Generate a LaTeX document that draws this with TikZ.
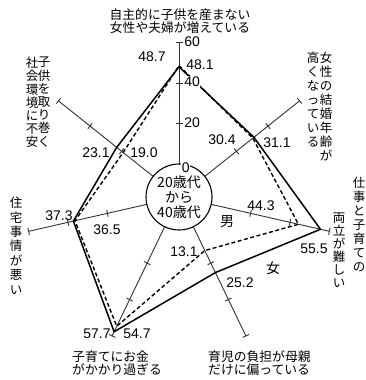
\documentclass[tikz,border=0pt]{standalone}
\usepackage{fontspec}
\setmainfont{Liberation Sans}
\newfontfamily\jp{Noto Sans CJK JP}
\begin{document}
\begin{tikzpicture}[x=1pt,y=1pt,
  axisline/.style={line width=0.9pt, black!80},
  tickmark/.style={line width=0.9pt, black!80},
  femline/.style={line width=1.5pt, line join=round},
  maleline/.style={line width=1.4pt, dash pattern=on 4pt off 2.5pt},
  numlbl/.style={font=\fontsize{14}{14}\selectfont, inner sep=0.5pt},
  scalelbl/.style={font=\fontsize{14}{14}\selectfont, inner sep=0.6pt, fill=white, anchor=west},
  sexlbl/.style={font=\jp\fontsize{14}{14}\selectfont, inner sep=0pt},
  jph/.style={font=\jp\fontsize{12.8}{13}\selectfont, align=left, inner sep=0pt},
  jpv/.style={font=\jp\fontsize{12.5}{14}\selectfont, align=center, inner sep=0pt, anchor=north},
]
\useasboundingbox (0,0) rectangle (366,380);
\fill[white] (0,0) rectangle (366,380);
\coordinate (C) at (179,183);
\def\rz{33}\def\sc{2.02}
% axes with ticks
\foreach \i/\a in {1/90,2/38.5714,3/-12.8571,4/-64.2857,5/-115.7143,6/-167.1429,7/141.4286}{
  \coordinate (s\i) at ([shift={({\a}:{\rz})}]C);
  \coordinate (e\i) at ([shift={({\a}:{\rz+60*\sc})}]C);
  \draw[axisline] (s\i) -- (e\i);
  \foreach \v in {20,40,60}{
    \draw[tickmark] ([shift={({\a}:{\rz+\v*\sc})}]C) ++({\a+90}:3.5) -- ++({\a-90}:7);
  }
}
% data points
\foreach \i/\a/\f/\m in {1/90/48.1/48.7, 2/38.5714/31.1/30.4, 3/-12.8571/55.5/44.3, 4/-64.2857/25.2/13.1, 5/-115.7143/57.7/54.7, 6/-167.1429/37.3/36.5, 7/141.4286/23.1/19.0}{
  \coordinate (f\i) at ([shift={({\a}:{\rz+\f*\sc})}]C);
  \coordinate (m\i) at ([shift={({\a}:{\rz+\m*\sc})}]C);
}
\draw[femline] (f1) -- (f2) -- (f3) -- (f4) -- (f5) -- (f6) -- (f7) -- cycle;
\draw[maleline] (m1) -- (m2) -- (m3) -- (m4) -- (m5) -- (m6) -- (m7) -- cycle;
% centre
\node[circle, draw, line width=1.1pt, fill=white, minimum size=66pt, inner sep=0pt,
      align=center, font=\jp\fontsize{14}{15}\selectfont] (ctr) at (C) {20歳代\\から\\40歳代};
% scale labels
\node[scalelbl] (t60) at (183.5,338) {60};
\node[scalelbl] (t40) at (183.5,298) {40};
\node[scalelbl] (t20) at (183.5,257) {20};
\node[scalelbl] (t0) at (181,212) {0};
% value labels
\node[numlbl] (v487) at (152,323) {48.7};
\node[numlbl] (v481) at (200,315) {48.1};
\node[numlbl] (v304) at (222,240) {30.4};
\node[numlbl] (v311) at (277,237) {31.1};
\node[numlbl] (v443) at (261,174) {44.3};
\node[numlbl] (v555) at (314,131) {55.5};
\node[numlbl] (v131) at (184,128) {13.1};
\node[numlbl] (v252) at (240,97) {25.2};
\node[numlbl] (v577) at (97,46) {57.7};
\node[numlbl] (v547) at (137,46) {54.7};
\node[numlbl] (v373) at (59,164) {37.3};
\node[numlbl] (v365) at (107,150) {36.5};
\node[numlbl] (v231) at (96,227) {23.1};
\node[numlbl] (v190) at (144,227) {19.0};
\node[sexlbl] (male) at (227,158) {男};
\node[sexlbl] (female) at (273,112) {女};
% category labels
\node[jph, align=center, anchor=north, font=\jp\fontsize{12.8}{13}\selectfont] (c1) at (180,371.5)
  {自主的に子供を産まない\\女性や夫婦が増えている};
\node[jpv] (c2a) at (326,328) {女\\性\\の\\結\\婚\\年\\齢\\が};
\node[jpv] (c2b) at (313,328) {高\\く\\な\\っ\\て\\い\\る};
\node[jpv] (c3a) at (359,203) {仕\\事\\と\\子\\育\\て\\の};
\node[jpv, font=\jp\fontsize{12.5}{13}\selectfont] (c3b) at (339,167) {両\\立\\が\\難\\し\\い};
\node[jph, anchor=north west] (c4) at (208,29.5) {育児の負担が母親\\だけに偏っている};
\node[jph, anchor=north west] (c5) at (72,29.5) {子育てにお金\\がかかり過ぎる};
\node[jpv, font=\jp\fontsize{12.5}{14.4}\selectfont] (c6) at (16,183) {住\\宅\\事\\情\\が\\悪\\い};
\node[jpv, font=\jp\fontsize{12.5}{13.2}\selectfont] (c7a) at (44,323) {子\\供\\を\\取\\り\\巻\\く};
\node[jpv, font=\jp\fontsize{12.5}{13.2}\selectfont] (c7b) at (32,323) {社\\会\\環\\境\\に\\不\\安};
\end{tikzpicture}
\end{document}
